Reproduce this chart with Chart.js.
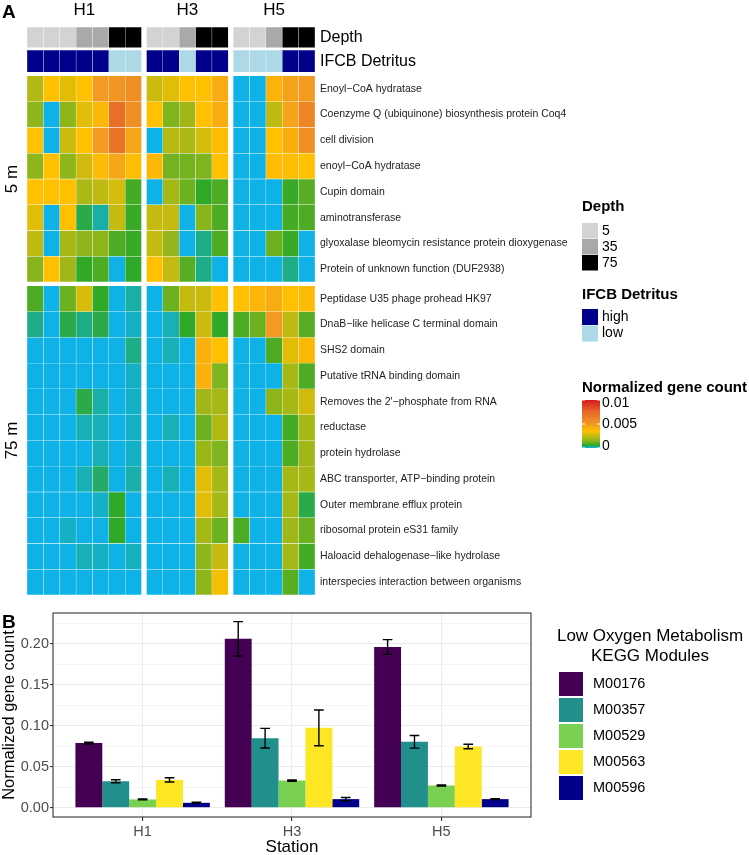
<!DOCTYPE html>
<html lang="en">
<head>
<meta charset="UTF-8">
<title>Low oxygen metabolism gene counts</title>
<script src="https://cdn.jsdelivr.net/npm/chart.js"></script>
<style>
  body { margin: 0; background: #fff; }
  #wrap { position: relative; width: 749px; height: 855px; overflow: hidden; }
  canvas { position: absolute; left: 0; }
  #heatChart { top: 0; }
  #barChart { top: 600px; }
</style>
</head>
<body>
<div id="wrap">
  <canvas id="heatChart" width="749" height="600"></canvas>
  <canvas id="barChart" width="749" height="258"></canvas>
</div>
<script>
const FONT = '"Liberation Sans", Arial, sans-serif';

// ---------- panel A data ----------
const stations = ['H1', 'H3', 'H5'];
const sampleStation = [0,0,0,0,0,0,0, 1,1,1,1,1, 2,2,2,2,2];
const depth = [5,5,5,35,35,75,75, 5,5,35,75,75, 5,5,35,75,75];
const detritus = ['high','high','high','high','high','low','low',
                  'high','high','low','high','high',
                  'low','low','low','high','high'];
const depthLevels = [5, 35, 75];
const detritusLevels = ['high', 'low'];

const genes5m = [
  'Enoyl\u2212CoA hydratase',
  'Coenzyme Q (ubiquinone) biosynthesis protein Coq4',
  'cell division',
  'enoyl\u2212CoA hydratase',
  'Cupin domain',
  'aminotransferase',
  'glyoxalase bleomycin resistance protein dioxygenase',
  'Protein of unknown function (DUF2938)'
];
const genes75m = [
  'Peptidase U35 phage prohead HK97',
  'DnaB\u2212like helicase C terminal domain',
  'SHS2 domain',
  'Putative tRNA binding domain',
  'Removes the 2\'\u2212phosphate from RNA',
  'reductase',
  'protein hydrolase',
  'ABC transporter, ATP\u2212binding protein',
  'Outer membrane efflux protein',
  'ribosomal protein eS31 family',
  'Haloacid dehalogenase\u2212like hydrolase',
  'interspecies interaction between organisms'
];

// normalized gene counts, columns = H1 (7) | H3 (5) | H5 (5)
const counts5m = [
  [0.0022,0.0035,0.003,0.0035,0.005,0.0052,0.0055,  0.0026,0.003,0.0035,0.0035,0.0043,  0,0,0.004,0.0047,0.005],
  [0.0016,0,0.0016,0.003,0.0038,0.0072,0.0055,      0.0035,0.0014,0.0019,0.0035,0.0042, 0,0,0.0024,0.0046,0.006],
  [0.0035,0,0.0026,0.0035,0.005,0.007,0.0045,       0,0.0023,0.0021,0.0028,0.0036,      0,0,0.0035,0.0042,0.0055],
  [0.0016,0.0035,0.0016,0.0027,0.0037,0.0045,0.0036,0.0038,0.0013,0.0013,0.0014,0.0035, 0,0,0.0036,0.0036,0.0035],
  [0.0035,0.0035,0.0035,0.0021,0.0024,0.0028,0.0008,0,0.002,0.0012,0.0006,0.0009,      0,0,0,0.0007,0.001],
  [0.003,0,0.0035,0.0005,0.0002,0.0025,0.0007,      0.0025,0.0025,0,0.0015,0.0009,      0,0,0,0.0008,0.0009],
  [0.0024,0,0.002,0.0016,0.0016,0.0009,0.0007,      0.0025,0.0017,0,0.0003,0.0009,      0,0,0.0012,0.0007,0],
  [0.0015,0.0035,0.0019,0.0006,0.0009,0,0.0006,     0.0035,0.0025,0.001,0.0003,0,       0,0,0,0.0003,0]
];
const counts75m = [
  [0.0009,0,0.0012,0.0028,0.0006,0,0.0002,   0,0.0012,0.0025,0.0026,0.0035,     0.0035,0.0039,0.0043,0.0035,0.0037],
  [0.0003,0,0.0005,0.0003,0.0005,0,0.0001,   0,0.00015,0.0006,0.0026,0.0006,    0.0009,0.0012,0.005,0.0024,0.001],
  [0,0,0,0,0,0,0.0003,                       0,0.00015,0,0.0041,0.0035,         0,0,0.0009,0.003,0.0038],
  [0,0,0,0,0,0,0.0001,                       0,0,0,0.0041,0.0014,               0,0,0,0.002,0.0009],
  [0,0,0,0.0005,0.0002,0,0.0001,             0,0,0,0.0019,0.002,                0,0,0.0016,0.002,0.0027],
  [0,0,0,0.00015,0.00015,0,0.0001,           0,0.00015,0,0.0012,0.0022,         0,0,0,0.0008,0.002],
  [0,0,0,0,0.00015,0,0.0001,                 0,0,0,0.0018,0.0014,               0,0,0,0.0009,0.0019],
  [0,0,0,0.00015,0.0004,0,0.00018,           0,0.00015,0,0.003,0.002,           0,0,0,0.002,0.002],
  [0,0,0,0,0.0001,0.0006,0,                  0,0,0,0.003,0.002,                 0,0,0,0.002,0.0005],
  [0,0,0.0001,0,0,0.0006,0,                  0,0,0,0.002,0.0012,                0.0009,0,0,0.0019,0.0012],
  [0,0,0,0.00015,0.0001,0,0.00013,           0,0,0,0.0016,0.0025,               0,0,0,0.002,0.0008],
  [0,0,0,0,0,0,0,                            0,0,0,0.0016,0.0033,               0,0,0,0.001,0]
];
const colorbarTicks = [0, 0.005, 0.01];

// ---------- panel B data ----------
const modules = ['M00176', 'M00357', 'M00529', 'M00563', 'M00596'];
const moduleMeans = [
  [0.0788, 0.206, 0.196],
  [0.0323, 0.0848, 0.0804],
  [0.0101, 0.0331, 0.0271],
  [0.034, 0.0974, 0.0747],
  [0.006, 0.0105, 0.0105]
];
const moduleErrors = [
  [0.001, 0.021, 0.009],
  [0.0018, 0.012, 0.0077],
  [0.0005, 0.0008, 0.0008],
  [0.0026, 0.0218, 0.0028],
  [0.0006, 0.002, 0.0006]
];

// ---------- colours ----------
const depthColors = { 5: '#D3D3D3', 35: '#A9A9A9', 75: '#000000' };
const detritusColors = { high: '#00008B', low: '#ADD8E6' };
const moduleColors = ['#440154', '#21908C', '#7AD151', '#FDE725', '#00008B'];
const countStops = [
  [0, [14, 178, 230]],
  [0.0006, [48, 168, 40]],
  [0.0015, [136, 181, 28]],
  [0.0025, [196, 186, 16]],
  [0.0035, [255, 192, 0]],
  [0.005, [242, 154, 34]],
  [0.0075, [232, 105, 42]],
  [0.01, [215, 25, 28]]
];

function countColor(v) {
  if (v <= countStops[0][0]) return 'rgb(' + countStops[0][1].join(',') + ')';
  for (let i = 1; i < countStops.length; i++) {
    const [v1, c1] = countStops[i];
    const [v0, c0] = countStops[i - 1];
    if (v <= v1) {
      const t = (v - v0) / (v1 - v0);
      const c = c0.map((a, k) => Math.round(a + (c1[k] - a) * t));
      return 'rgb(' + c.join(',') + ')';
    }
  }
  return 'rgb(' + countStops[countStops.length - 1][1].join(',') + ')';
}

// ---------- panel A chart ----------
const colPos = sampleStation.map((s, j) => j + s * 0.3);
const allGenes = genes5m.concat(genes75m);
const allCounts = counts5m.concat(counts75m);
const rowTop = k => 1.9 + k + (k >= genes5m.length ? 0.15 : 0);

function rowDataset(top, bottom, colors) {
  return {
    data: colPos.map(x => ({ x: x, y: [top, bottom] })),
    backgroundColor: colors,
    borderColor: 'rgba(255,255,255,0.07)',
    borderWidth: 0.5,
    borderSkipped: false
  };
}

const heatDatasets = [
  rowDataset(0, 0.8, depth.map(d => depthColors[d])),
  rowDataset(0.9, 1.75, detritus.map(d => detritusColors[d]))
];
allCounts.forEach((row, k) => {
  heatDatasets.push(rowDataset(rowTop(k), rowTop(k) + 1, row.map(countColor)));
});

const heatText = {
  id: 'heatText',
  afterDraw(chart) {
    const ctx = chart.ctx;
    const xs = chart.scales.x, ys = chart.scales.y;
    ctx.save();
    ctx.fillStyle = '#000';
    ctx.textBaseline = 'alphabetic';
    ctx.font = 'bold 19px ' + FONT;
    ctx.textAlign = 'left';
    ctx.fillText('A', 2, 18);

    // station titles
    ctx.font = '17px ' + FONT;
    ctx.textAlign = 'center';
    stations.forEach((s, i) => {
      const cols = colPos.filter((_, j) => sampleStation[j] === i);
      const mid = (cols[0] + cols[cols.length - 1]) / 2;
      ctx.fillText(s, xs.getPixelForValue(mid), 15);
    });

    // annotation names and gene names
    const right = chart.chartArea.right + 5;
    ctx.textAlign = 'left';
    ctx.textBaseline = 'middle';
    ctx.font = '16px ' + FONT;
    ctx.fillText('Depth', right, ys.getPixelForValue(0.4));
    ctx.fillText('IFCB Detritus', right, ys.getPixelForValue(1.325));
    ctx.fillStyle = '#222';
    ctx.font = '10.5px ' + FONT;
    allGenes.forEach((g, k) => ctx.fillText(g, right, ys.getPixelForValue(rowTop(k) + 0.5)));

    // depth slice titles
    ctx.fillStyle = '#000';
    ctx.font = '17px ' + FONT;
    ctx.textAlign = 'center';
    const slices = [['5 m', rowTop(0), rowTop(genes5m.length - 1) + 1],
                    ['75 m', rowTop(genes5m.length), rowTop(allGenes.length - 1) + 1]];
    slices.forEach(([t, a, b]) => {
      ctx.save();
      ctx.translate(12, ys.getPixelForValue((a + b) / 2));
      ctx.rotate(-Math.PI / 2);
      ctx.fillText(t, 0, 0);
      ctx.restore();
    });

    // legends
    const lx = 582;
    ctx.textAlign = 'left';
    ctx.font = 'bold 15px ' + FONT;
    ctx.fillText('Depth', lx, 207);
    ctx.fillText('IFCB Detritus', lx, 295);
    ctx.fillText('Normalized gene count', lx, 388);
    ctx.font = '14px ' + FONT;
    depthLevels.forEach((d, i) => {
      ctx.fillStyle = depthColors[d];
      ctx.fillRect(lx, 223 + i * 16, 16, 15.5);
      ctx.fillStyle = '#000';
      ctx.fillText(String(d), lx + 20, 231 + i * 16);
    });
    detritusLevels.forEach((d, i) => {
      ctx.fillStyle = detritusColors[d];
      ctx.fillRect(lx, 309 + i * 16.5, 16, 16);
      ctx.fillStyle = '#000';
      ctx.fillText(d, lx + 20, 317 + i * 16.5);
    });

    // colour bar
    const cTop = 400, cBot = 448, cMax = colorbarTicks[colorbarTicks.length - 1];
    const grad = ctx.createLinearGradient(0, cBot, 0, cTop);
    countStops.forEach(([v, c]) => grad.addColorStop(v / cMax, 'rgb(' + c.join(',') + ')'));
    ctx.fillStyle = grad;
    ctx.fillRect(lx, cTop, 18, cBot - cTop);
    ctx.strokeStyle = '#fff';
    ctx.lineWidth = 1;
    colorbarTicks.forEach(v => {
      const y = cBot - (v / cMax) * (cBot - cTop);
      ctx.beginPath();
      ctx.moveTo(lx, y); ctx.lineTo(lx + 3, y);
      ctx.moveTo(lx + 15, y); ctx.lineTo(lx + 18, y);
      ctx.stroke();
      ctx.fillStyle = '#000';
      ctx.fillText(String(v), lx + 20, Math.min(Math.max(y, cTop + 3), cBot - 2));
    });
    ctx.restore();
  }
};

new Chart(document.getElementById('heatChart'), {
  type: 'bar',
  data: { datasets: heatDatasets },
  options: {
    responsive: false,
    animation: false,
    layout: { padding: { left: 27, right: 749 - 315, top: 27, bottom: 5 } },
    datasets: { bar: { grouped: false, categoryPercentage: 1, barPercentage: 1 } },
    plugins: { legend: { display: false }, tooltip: { enabled: false } },
    scales: {
      x: {
        type: 'linear', display: false, offset: false,
        min: -0.5, max: colPos[colPos.length - 1] + 0.5,
        afterBuildTicks: s => { s.ticks = [{ value: s.min }, { value: s.max }]; }
      },
      y: {
        type: 'linear', display: false, reverse: true,
        min: 0, max: rowTop(allGenes.length - 1) + 1
      }
    }
  },
  plugins: [heatText]
});

// ---------- panel B chart ----------
const errorBars = {
  id: 'errorBars',
  afterDatasetsDraw(chart) {
    const ctx = chart.ctx, y = chart.scales.y;
    ctx.save();
    ctx.strokeStyle = '#000';
    ctx.lineWidth = 1.4;
    chart.data.datasets.forEach((ds, i) => {
      chart.getDatasetMeta(i).data.forEach((bar, j) => {
        const v = moduleMeans[i][j], e = moduleErrors[i][j];
        const top = y.getPixelForValue(v + e), bot = y.getPixelForValue(v - e);
        const half = bar.width * 0.18;
        ctx.beginPath();
        ctx.moveTo(bar.x, top); ctx.lineTo(bar.x, bot);
        ctx.moveTo(bar.x - half, top); ctx.lineTo(bar.x + half, top);
        ctx.moveTo(bar.x - half, bot); ctx.lineTo(bar.x + half, bot);
        ctx.stroke();
      });
    });
    ctx.restore();
  }
};

const panelB = {
  id: 'panelB',
  afterDraw(chart) {
    const ctx = chart.ctx, a = chart.chartArea;
    ctx.save();
    ctx.strokeStyle = '#333';
    ctx.lineWidth = 1.1;
    ctx.strokeRect(a.left, a.top, a.right - a.left, a.bottom - a.top);

    ctx.fillStyle = '#000';
    ctx.font = 'bold 19px ' + FONT;
    ctx.textBaseline = 'alphabetic';
    ctx.fillText('B', 2, 28);

    // legend
    ctx.textBaseline = 'middle';
    ctx.textAlign = 'center';
    ctx.font = '17px ' + FONT;
    ctx.fillText('Low Oxygen Metabolism', 650, 36);
    ctx.fillText('KEGG Modules', 650, 56);
    ctx.textAlign = 'left';
    ctx.font = '14.5px ' + FONT;
    chart.data.datasets.forEach((ds, i) => {
      const y = 72 + i * 26;
      ctx.fillStyle = ds.backgroundColor;
      ctx.fillRect(559, y, 24, 24);
      ctx.fillStyle = '#000';
      ctx.fillText(ds.label, 593, y + 12);
    });
    ctx.restore();
  }
};

new Chart(document.getElementById('barChart'), {
  type: 'bar',
  data: {
    datasets: modules.map((m, i) => ({
      label: m,
      data: moduleMeans[i].map((v, j) => ({ x: j + 1, y: v })),
      backgroundColor: moduleColors[i],
      borderWidth: 0
    }))
  },
  options: {
    responsive: false,
    animation: false,
    layout: { padding: { left: 0, right: 749 - 531, top: 13, bottom: 0 } },
    datasets: { bar: { categoryPercentage: 0.9, barPercentage: 1 } },
    plugins: { legend: { display: false }, tooltip: { enabled: false } },
    scales: {
      x: {
        type: 'linear', offset: false, min: 0.4, max: 3.6,
        afterBuildTicks: s => { s.ticks = stations.map((_, i) => ({ value: i + 1 })); },
        afterFit: s => { s.height = 41; },
        ticks: {
          callback: v => stations[Math.round(v) - 1],
          color: '#4D4D4D', font: { family: FONT, size: 14.5 },
          padding: 2, autoSkip: false, maxRotation: 0
        },
        grid: { color: '#EBEBEB', lineWidth: 1.1, tickLength: 4, tickColor: '#333', offset: false },
        border: { display: false },
        title: { display: true, text: 'Station', color: '#000', font: { family: FONT, size: 17 }, padding: 0 }
      },
      y: {
        min: -0.0113, max: 0.2375,
        afterBuildTicks: s => {
          s.ticks = [];
          for (let i = 0; i <= 9; i++) s.ticks.push({ value: i * 0.025 });
        },
        afterFit: s => { s.width = 53; },
        ticks: {
          callback: (v, i) => (i % 2 === 0 ? v.toFixed(2) : ''),
          color: '#4D4D4D', font: { family: FONT, size: 14.5 },
          padding: 1, autoSkip: false
        },
        grid: {
          color: '#EBEBEB',
          lineWidth: c => (c.index % 2 === 0 ? 1.1 : 0.55),
          tickLength: 3,
          tickColor: c => (c.index % 2 === 0 ? '#333' : 'rgba(0,0,0,0)')
        },
        border: { display: false },
        title: { display: true, text: 'Normalized gene count', color: '#000', font: { family: FONT, size: 16.5 }, padding: 0 }
      }
    }
  },
  plugins: [errorBars, panelB]
});
</script>
</body>
</html>
